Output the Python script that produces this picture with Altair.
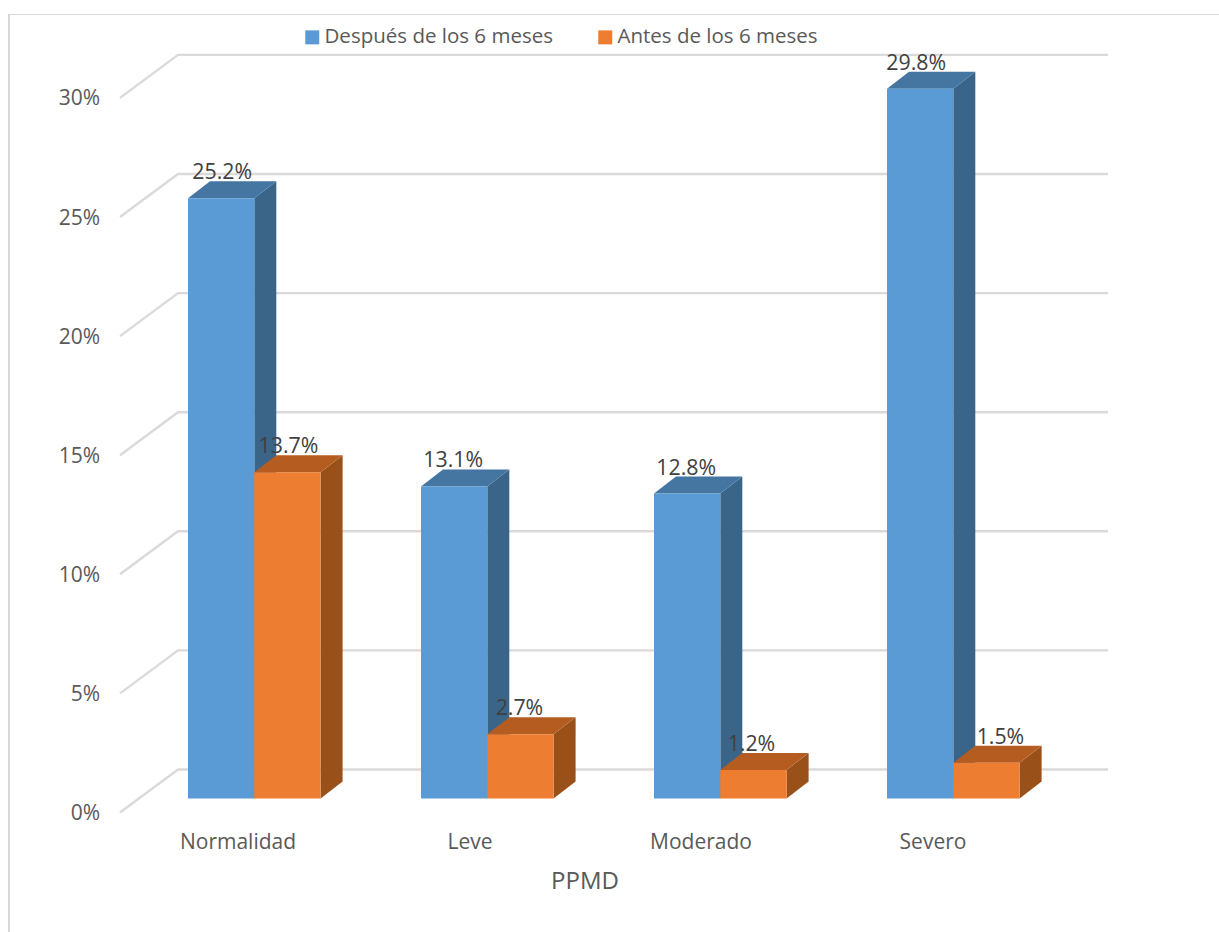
import altair as alt
import pandas as pd

categories = ["Normalidad", "Leve", "Moderado", "Severo"]
after_values = [25.2, 13.1, 12.8, 29.8]
before_values = [13.7, 2.7, 1.2, 1.5]
series_names = ["Después de los 6 meses", "Antes de los 6 meses"]
y_ticks = [0, 5, 10, 15, 20, 25, 30]

W, H = 1219, 932
PX_PER_PCT = 23.82
PX_PER_SLOT = 233.0
ZERO_PX = 812.5
FIRST_BAR_PX = 188.0

# Oblique projection, expressed in data units (slots on x, percent on y)
BAR_W = 66.3 / PX_PER_SLOT
DEPTH_X = 22.0 / PX_PER_SLOT
DEPTH_Y = 17.0 / PX_PER_PCT
FLOOR = (ZERO_PX - 798.5) / PX_PER_PCT
WALL_X0 = (120.0 - FIRST_BAR_PX) / PX_PER_SLOT
WALL_X1 = (178.0 - FIRST_BAR_PX) / PX_PER_SLOT
WALL_X2 = (1108.0 - FIRST_BAR_PX) / PX_PER_SLOT
WALL_RISE = 43.0 / PX_PER_PCT

FONT = "Open Sans"
TEXT_GREY, VALUE_GREY = "#595959", "#404040"
BLUE, BLUE_TOP, BLUE_SIDE = "#5B9BD5", "#4575A1", "#3A6589"
ORANGE, ORANGE_TOP, ORANGE_SIDE = "#ED7D31", "#B55D20", "#9A5119"

x_scale = alt.Scale(domain=[-FIRST_BAR_PX / PX_PER_SLOT, (W - FIRST_BAR_PX) / PX_PER_SLOT], nice=False, zero=False)
y_scale = alt.Scale(domain=[(ZERO_PX - H) / PX_PER_PCT, ZERO_PX / PX_PER_PCT], nice=False, zero=False)
X = lambda f: alt.X(f, type="quantitative", scale=x_scale, axis=None)
Y = lambda f: alt.Y(f, type="quantitative", scale=y_scale, axis=None)
px_x = lambda p: (p - FIRST_BAR_PX) / PX_PER_SLOT
px_y = lambda p: (ZERO_PX - p) / PX_PER_PCT

bars, sides, tops, grid = [], [], [], []
for s, (name, vals) in enumerate(zip(series_names, [after_values, before_values])):
    for i, v in enumerate(vals):
        xl = i + s * BAR_W
        xr = xl + BAR_W
        top = FLOOR + v
        key = f"{s}-{i}"
        bars.append(dict(serie=name, xl=xl, xr=xr, y0=FLOOR, y1=top, value=v, s=s))
        for t in (0, 1):
            sides.append(dict(key=key, s=s, x=xr + t * DEPTH_X,
                              lo=FLOOR + t * DEPTH_Y, hi=top + t * DEPTH_Y))
            tops.append(dict(key=key, s=s, y=top + t * DEPTH_Y,
                             a=xl + t * DEPTH_X, b=xr + t * DEPTH_X))
for level in y_ticks:
    grid += [dict(level=level, x=WALL_X0, y=level),
             dict(level=level, x=WALL_X1, y=level + WALL_RISE),
             dict(level=level, x=WALL_X2, y=level + WALL_RISE)]

bars_df, sides_df, tops_df = pd.DataFrame(bars), pd.DataFrame(sides), pd.DataFrame(tops)

# Frame of the chart area: left and top edges only
frame_left = alt.Chart(pd.DataFrame({"k": [0]})).mark_rule(color="#D9D9D9", strokeWidth=2).encode(
    x=alt.value(9), y=alt.value(14), y2=alt.value(H))
frame_top = alt.Chart(pd.DataFrame({"k": [0]})).mark_rule(color="#D9D9D9", strokeWidth=1).encode(
    x=alt.value(9), x2=alt.value(W), y=alt.value(14.5))

# Floor and back-wall gridlines
gridlines = alt.Chart(pd.DataFrame(grid)).mark_line(color="#DADADA", strokeWidth=2.4).encode(
    x=X("x"), y=Y("y"), detail="level:N", order=alt.Order("x:Q"))

# Percent labels, right-aligned beside the floor lines
tick_df = pd.DataFrame({"v": y_ticks, "x": [px_x(100)] * len(y_ticks),
                        "text": [f"{t}%" for t in y_ticks]})
tick_labels = alt.Chart(tick_df).mark_text(
    font=FONT, fontSize=21, color=TEXT_GREY, align="right", baseline="middle", dy=1.5).encode(
    x=X("x"), y=Y("v"), text="text:N")


def side_layer(s, fill):
    return alt.Chart(sides_df[sides_df.s == s]).mark_area(fill=fill, opacity=1).encode(
        x=X("x"), y=Y("lo"), y2="hi:Q", detail="key:N")


def top_layer(s, fill):
    return alt.Chart(tops_df[tops_df.s == s]).mark_area(fill=fill, opacity=1, orient="horizontal").encode(
        y=Y("y"), x=X("a"), x2="b:Q", detail="key:N")


fronts = alt.Chart(bars_df).mark_rect().encode(
    x=X("xl"), x2="xr:Q", y=Y("y0"), y2="y1:Q",
    color=alt.Color("serie:N",
                    scale=alt.Scale(domain=series_names, range=[BLUE, ORANGE]),
                    legend=alt.Legend(orient="none", legendX=302, legendY=27, direction="horizontal",
                                      title=None, symbolType="square", symbolSize=196, symbolStrokeWidth=0,
                                      labelFont=FONT, labelFontSize=20.5, labelColor=TEXT_GREY, labelLimit=400,
                                      columnPadding=42, labelOffset=2)))

# Value labels sit above each top face, nudged sideways where a taller bar is in the way
label_nudge_px = [1, -1, -1, -4, 1, -1, -2, 14]
labels_df = bars_df.assign(xc=(bars_df.xl + bars_df.xr) / 2 + [n / PX_PER_SLOT for n in label_nudge_px],
                           text=bars_df.value.map(lambda v: f"{v:.1f}%"))
value_labels = alt.Chart(labels_df).mark_text(
    font=FONT, fontSize=21.3, color=VALUE_GREY, baseline="middle", dy=-25).encode(
    x=X("xc"), y=Y("y1"), text="text:N")

label_px = [238, 470, 701, 933]
cat_df = pd.DataFrame({"cat": categories,
                       "x": [px_x(p) for p in label_px],
                       "y": [px_y(842.5)] * 4})
cat_labels = alt.Chart(cat_df).mark_text(font=FONT, fontSize=21, color=TEXT_GREY, baseline="middle").encode(
    x=X("x"), y=Y("y"), text="cat:N")

axis_title = alt.Chart(pd.DataFrame({"t": ["PPMD"], "x": [px_x(585)], "y": [px_y(881.5)]})).mark_text(
    font=FONT, fontSize=24, color=TEXT_GREY, baseline="middle").encode(x=X("x"), y=Y("y"), text="t:N")

chart = alt.layer(
    frame_left, frame_top, gridlines, tick_labels,
    side_layer(0, BLUE_SIDE), top_layer(0, BLUE_TOP),
    side_layer(1, ORANGE_SIDE), top_layer(1, ORANGE_TOP),
    fronts, value_labels, cat_labels, axis_title,
).properties(width=W, height=H, padding=0, autosize="none", background="white").configure_view(stroke=None)

chart.save("out.html", embed_options={"renderer": "svg", "actions": False})
